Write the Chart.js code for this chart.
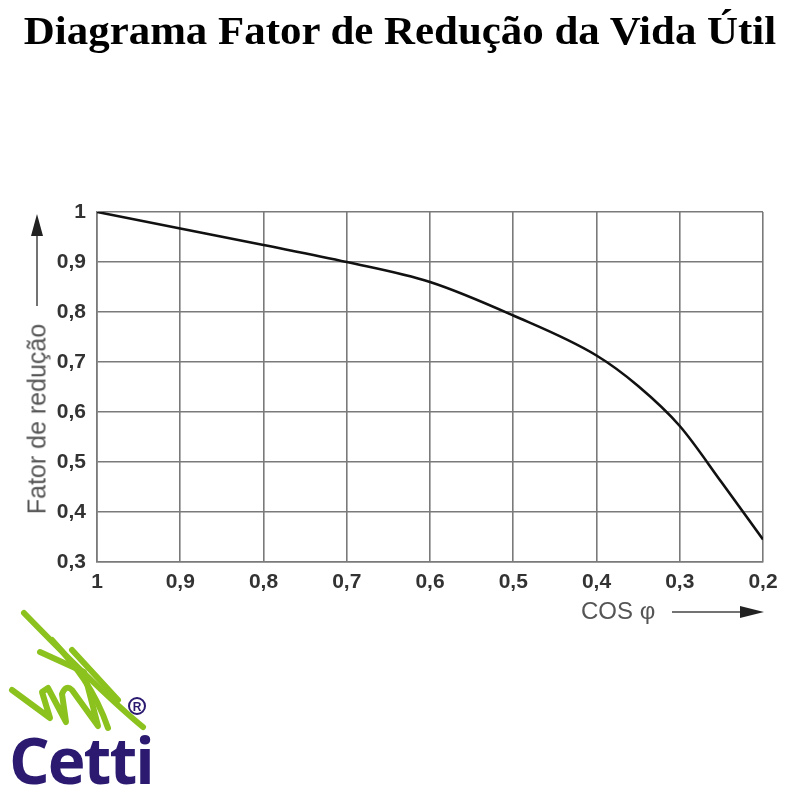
<!DOCTYPE html>
<html lang="pt">
<head>
  <meta charset="UTF-8" />
  <title>Diagrama Fator de Redução da Vida Útil</title>
  <script src="https://cdn.jsdelivr.net/npm/chart.js"></script>
  <style>
    body { margin: 0; background: #fff; width: 800px; height: 800px; position: relative; overflow: hidden; font-family: 'Liberation Sans', Arial, sans-serif; }
    #chart { position: absolute; left: 0; top: 0; }
    .title {
      position: absolute; left: 0; top: 8px; width: 800px; text-align: center;
      font-family: 'Liberation Serif', 'Times New Roman', serif; font-weight: bold; font-size: 39px; color: #000;
      transform: scaleX(1.1); transform-origin: 400px 0;
    }
    .ylabel {
      position: absolute; left: 37px; top: 419px; transform: translate(-50%, -50%) rotate(-90deg);
      font-size: 25px; color: #555; white-space: nowrap;
    }
    .xlabel { position: absolute; left: 581px; top: 597px; font-size: 24px; color: #555; }
    .brand {
      position: absolute; left: 9px; top: 716px; font-family: 'Open Sans', 'DejaVu Sans', sans-serif;
      font-weight: bold; font-size: 64px; color: #2b1a70; letter-spacing: -2px;
    }
    svg { position: absolute; left: 0; top: 0; }
  </style>
</head>
<body>
  <canvas id="chart" width="800" height="800"></canvas>
  <div class="title">Diagrama Fator de Redução da Vida Útil</div>
  <div class="ylabel">Fator de redução</div>
  <div class="xlabel">COS φ</div>
  <div class="brand">Cetti</div>
  <svg width="800" height="800">
    <!-- y arrow -->
    <line x1="37" y1="306" x2="37" y2="232" stroke="#444" stroke-width="1.5"/>
    <polygon points="37,214 31,236 43,236" fill="#222"/>
    <!-- x arrow -->
    <line x1="672" y1="612" x2="742" y2="612" stroke="#444" stroke-width="1.5"/>
    <polygon points="764,612 740,606 740,618" fill="#222"/>
    <!-- logo scribble -->
    <g fill="none" stroke="#8cc21e" stroke-width="6" stroke-linecap="round" stroke-linejoin="round">
      <path d="M24,613 C60,650 110,700 143,727"/>
      <path d="M12,690 L50,718 L42,692 L48,688 L66,722 L62,694 Q66,684 72,690 L98,726 L84,672 L40,652"/>
      <path d="M52,640 C75,665 95,690 108,728"/>
      <path d="M72,650 L118,700"/>
    </g>
    <circle cx="137" cy="706" r="8" fill="none" stroke="#2b1a70" stroke-width="2"/>
    <text x="137" y="711" font-size="12" font-weight="bold" fill="#2b1a70" text-anchor="middle" font-family="Liberation Sans">R</text>
  </svg>

  <script>
    // cos phi values and reduction factor
    const cosPhi = [1, 0.9, 0.8, 0.7, 0.6, 0.5, 0.4, 0.35, 0.3, 0.25, 0.2];
    const fator = [1, 0.967, 0.934, 0.9, 0.86, 0.793, 0.713, 0.652, 0.572, 0.46, 0.345];
    const yTicks = [0.3, 0.4, 0.5, 0.6, 0.7, 0.8, 0.9, 1];
    const xTicks = [1, 0.9, 0.8, 0.7, 0.6, 0.5, 0.4, 0.3, 0.2];

    const fmt = v => Math.abs(v - 1) < 1e-9 ? '1' : v.toFixed(1).replace('.', ',');
    const tickFont = { family: "'Liberation Sans', Arial, sans-serif", size: 21, weight: 'bold' };
    const gridStyle = { color: '#7a7a7a', lineWidth: 1.6, drawTicks: false };

    new Chart(document.getElementById('chart'), {
      type: 'line',
      data: {
        datasets: [{
          data: cosPhi.map((x, i) => ({ x: x, y: fator[i] })),
          borderColor: '#111',
          borderWidth: 2.6,
          pointRadius: 0,
          cubicInterpolationMode: 'monotone',
          fill: false
        }]
      },
      options: {
        responsive: false,
        animation: false,
        layout: { padding: { left: 17, right: 37, top: 212, bottom: 208 } },
        plugins: { legend: { display: false }, tooltip: { enabled: false } },
        scales: {
          x: {
            type: 'linear', reverse: true, min: 0.2, max: 1,
            afterBuildTicks: s => { s.ticks = xTicks.map(v => ({ value: v })); },
            afterFit: s => { s.height = 30; },
            ticks: { font: tickFont, color: '#333', padding: 8, maxRotation: 0, callback: fmt },
            grid: gridStyle,
            border: { color: '#7a7a7a', width: 1.6 }
          },
          y: {
            min: 0.3, max: 1,
            afterBuildTicks: s => { s.ticks = yTicks.map(v => ({ value: v })); },
            afterFit: s => { s.width = 80; },
            ticks: { font: tickFont, color: '#333', padding: 11, callback: fmt },
            grid: gridStyle,
            border: { color: '#7a7a7a', width: 1.6 }
          }
        }
      }
    });
  </script>
</body>
</html>
